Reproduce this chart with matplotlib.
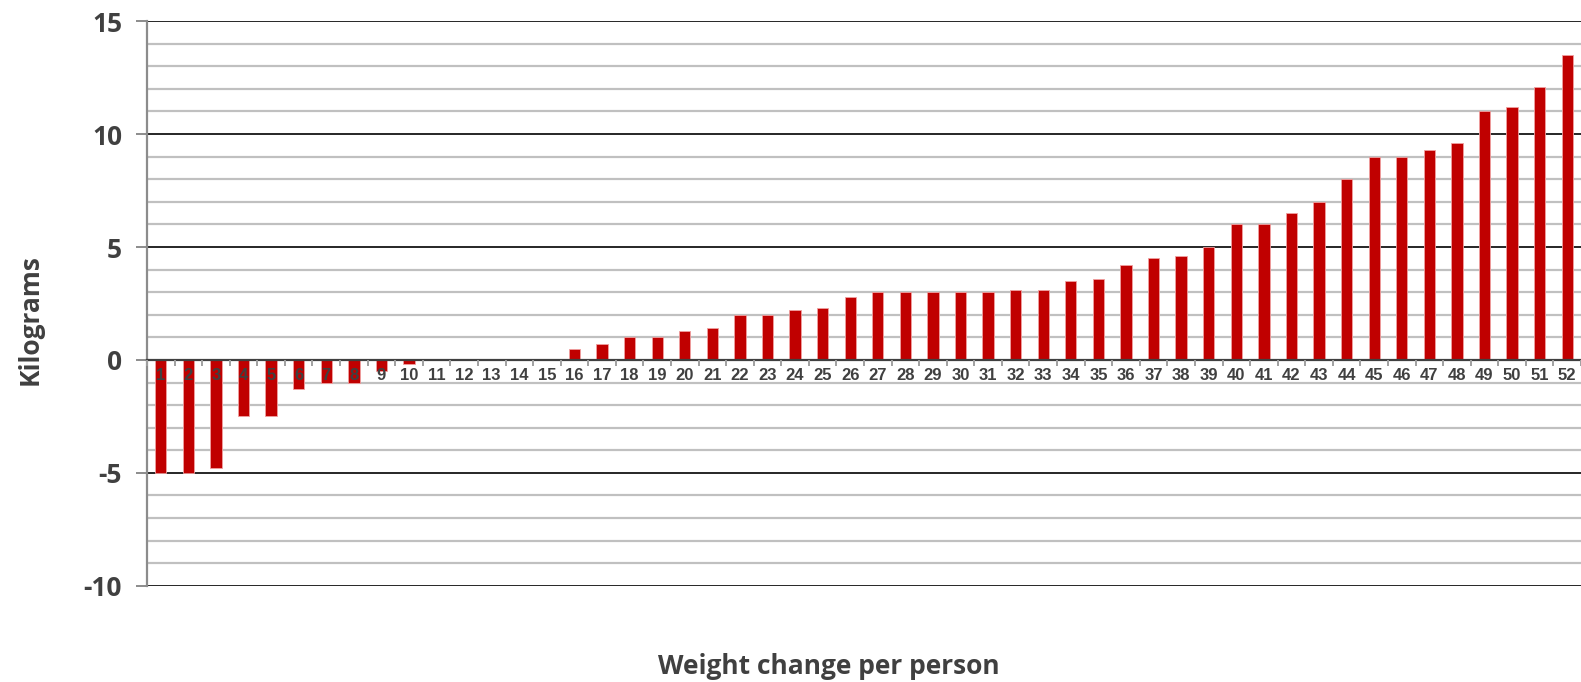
import matplotlib.pyplot as plt
import numpy as np

# weight change (kg) for each of the 52 people, sorted
people = list(range(1, 53))
change = [-5, -5, -4.8, -2.5, -2.5, -1.3, -1, -1, -0.5, -0.2,
          0, 0, 0, 0, 0.05, 0.5, 0.7, 1, 1, 1.3,
          1.4, 2, 2, 2.2, 2.3, 2.8, 3, 3, 3, 3,
          3, 3.1, 3.1, 3.5, 3.6, 4.2, 4.5, 4.6, 5, 6,
          6, 6.5, 7, 8, 9, 9, 9.3, 9.6, 11, 11.2,
          12.1, 13.5]
y_ticks = [-10, -5, 0, 5, 10, 15]

fig = plt.figure(figsize=(15.81, 6.82), dpi=100)
ax = fig.add_axes([0.093, 0.141, 0.907, 0.828])

ax.set_xlim(0.53, 52.45)
ax.set_ylim(-10, 15)

# grid: light lines every kg, dark lines every 5 kg
for v in np.arange(-10, 16, 1):
    if v % 5 == 0:
        ax.axhline(v, color='#262626', lw=1.4, zorder=1)
    else:
        ax.axhline(v, color='#c0c0c0', lw=1.6, zorder=1)

ax.bar(people, change, width=0.41, color='#c00000', edgecolor='#f0a0a0',
       linewidth=0.6, zorder=2)

for s in ['top', 'right']:
    ax.spines[s].set_visible(False)
ax.spines['left'].set_color('#8c8c8c')
ax.spines['left'].set_linewidth(1.6)
ax.spines['bottom'].set_position(('data', 0))
ax.spines['bottom'].set_color('#404040')
ax.spines['bottom'].set_linewidth(1.6)
ax.spines['bottom'].set_zorder(3)
ax.xaxis.set_zorder(4)

ax.set_yticks(y_ticks)
ax.set_yticklabels([str(t) for t in y_ticks], fontfamily='Open Sans',
                   fontweight='bold', fontsize=19, color='#404040')
ax.tick_params(axis='y', length=8, width=1.4, color='#8c8c8c', pad=10)

ax.set_xticks(people)
ax.set_xticklabels([str(p) for p in people], fontfamily='Liberation Sans',
                   fontweight='bold', fontsize=12, color='#404040')
ax.set_xticks(np.arange(0.5, 53, 1), minor=True)
ax.tick_params(axis='x', which='major', length=0, pad=6)
ax.tick_params(axis='x', which='minor', length=4, width=1.4, color='#a0a0a0')

fig.text(0.019, 0.532, 'Kilograms', rotation=90, ha='center', va='center',
         fontfamily='Open Sans', fontweight='bold', fontsize=19, color='#404040')
fig.text(0.524, 0.022, 'Weight change per person', ha='center', va='center',
         fontfamily='Open Sans', fontweight='bold', fontsize=19, color='#404040')

fig.savefig('out.png', dpi=100)
